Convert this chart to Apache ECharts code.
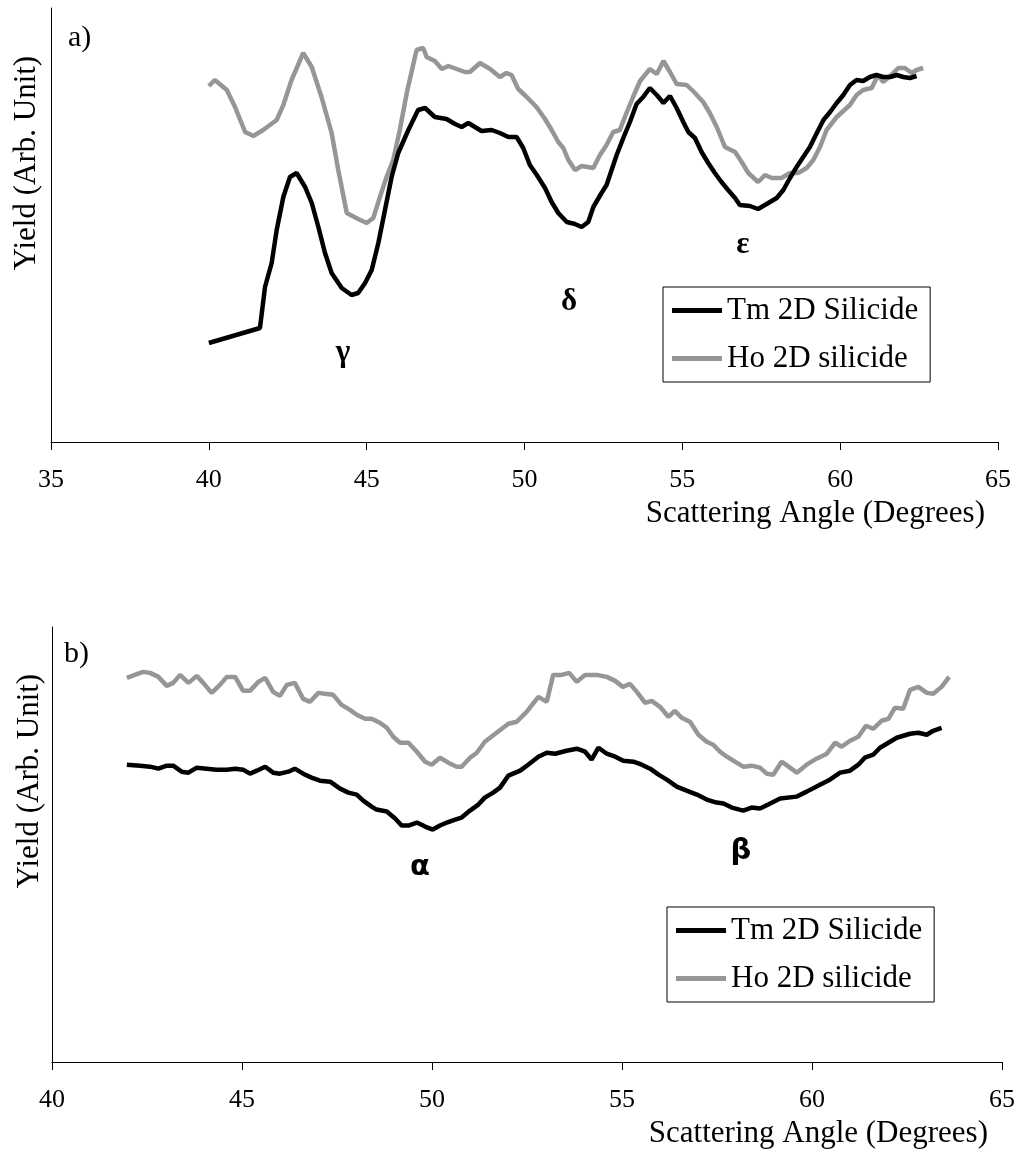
<!DOCTYPE html>
<html>
<head>
<meta charset="utf-8">
<script src="https://cdn.jsdelivr.net/npm/echarts@6/dist/echarts.min.js"></script>
<style>
  html, body { margin: 0; padding: 0; background: #fff; }
  #main { width: 1018px; height: 1149px; }
</style>
</head>
<body>
<div id="main"></div>
<script>
// panel a) Tm / Ho 2D silicide, angle in degrees, yield in arb. units
var tmAngleA = [40.00,41.62,41.78,41.99,42.15,42.36,42.57,42.78,43.05,43.26,43.47,43.68,43.89,44.21,44.52,44.73,44.95,45.16,45.37,45.58,45.79,46.00,46.32,46.63,46.85,47.16,47.53,47.80,48.01,48.22,48.43,48.64,48.96,49.22,49.49,49.75,49.96,50.17,50.39,50.65,50.86,51.07,51.34,51.60,51.81,52.02,52.18,52.44,52.60,52.76,52.92,53.13,53.34,53.55,53.76,53.97,54.19,54.40,54.61,54.82,55.03,55.19,55.40,55.61,55.82,56.03,56.24,56.45,56.67,56.82,57.14,57.40,57.67,57.99,58.20,58.41,58.62,58.83,59.04,59.26,59.47,59.68,59.89,60.10,60.31,60.52,60.73,60.94,61.15,61.36,61.58,61.79,62.00,62.21,62.42];
var tmYieldA = [99,114,155,179,212,245,265,269,255,239,215,189,169,154,147,149,159,172,199,232,265,289,312,332,334,325,323,318,315,319,315,311,312,309,305,305,294,277,267,254,240,229,220,218,215,220,235,249,257,272,287,304,320,338,345,354,347,339,346,334,320,310,304,290,279,269,260,252,244,237,236,233,238,244,252,264,275,285,295,309,322,330,339,347,357,362,361,365,367,365,365,367,365,364,366];
var hoAngleA = [40.00,40.19,40.57,40.83,41.15,41.41,41.72,42.15,42.36,42.62,42.99,43.26,43.57,43.89,44.10,44.37,44.73,45.00,45.21,45.42,45.63,45.84,46.05,46.27,46.58,46.79,46.90,47.16,47.38,47.59,47.85,48.11,48.27,48.59,48.91,49.22,49.43,49.59,49.80,50.07,50.38,50.65,50.86,51.07,51.23,51.39,51.60,51.81,52.18,52.39,52.60,52.81,53.02,53.23,53.44,53.66,53.97,54.19,54.40,54.61,54.82,55.14,55.40,55.66,55.87,56.09,56.35,56.67,56.88,57.09,57.40,57.62,57.83,58.14,58.41,58.67,58.94,59.15,59.36,59.57,59.89,60.31,60.52,60.73,61.00,61.20,61.36,61.62,61.84,62.05,62.27,62.42,62.63];
var hoYieldA = [356,362,352,335,310,306,312,322,337,362,389,375,345,309,272,229,223,219,224,245,265,282,312,349,392,394,385,381,373,376,373,370,370,379,373,365,369,367,353,345,335,323,312,300,294,282,272,276,274,287,297,310,312,329,345,361,373,368,381,370,358,357,349,340,329,315,295,290,280,269,260,267,264,264,269,269,274,282,295,312,325,337,347,352,354,367,360,367,374,374,369,372,374];

// panel b)
var tmAngleB = [41.97,42.32,42.58,42.80,43.02,43.19,43.41,43.59,43.81,44.07,44.33,44.60,44.82,45.03,45.21,45.39,45.61,45.82,46.00,46.22,46.39,46.61,46.83,47.05,47.32,47.58,47.80,48.02,48.19,48.41,48.54,48.81,49.03,49.20,49.38,49.60,49.82,50.02,50.21,50.39,50.61,50.78,51.00,51.22,51.39,51.61,51.79,52.01,52.32,52.53,52.80,53.02,53.24,53.54,53.81,54.03,54.20,54.38,54.60,54.82,55.03,55.30,55.52,55.74,55.96,56.18,56.44,56.70,56.97,57.23,57.49,57.67,57.89,58.19,58.41,58.63,58.85,59.16,59.60,59.86,60.21,60.47,60.74,61.00,61.22,61.39,61.61,61.79,62.01,62.23,62.58,62.80,63.02,63.19,63.41];
var tmYieldB = [298,297,296,294,297,297,291,290,295,294,293,293,294,293,289,292,296,290,289,291,294,289,285,282,281,274,270,268,262,256,253,251,244,237,237,240,236,233,237,240,243,245,252,258,265,270,275,287,292,298,306,310,309,312,314,311,303,315,309,306,302,301,298,294,288,283,276,272,268,263,260,259,255,252,255,254,258,264,266,271,278,283,290,292,298,305,308,315,320,325,329,330,328,332,335];
var hoAngleB = [41.97,42.18,42.40,42.58,42.80,43.02,43.19,43.37,43.59,43.81,43.98,44.20,44.42,44.60,44.82,45.03,45.21,45.43,45.61,45.82,46.00,46.18,46.39,46.61,46.79,47.01,47.18,47.40,47.62,47.84,48.02,48.24,48.41,48.63,48.81,48.98,49.16,49.38,49.60,49.82,49.99,50.21,50.43,50.65,50.78,51.00,51.18,51.39,51.70,52.01,52.23,52.49,52.80,53.02,53.19,53.41,53.61,53.81,54.03,54.33,54.60,54.82,55.02,55.21,55.39,55.61,55.78,56.00,56.22,56.39,56.57,56.79,57.01,57.23,57.40,57.58,57.76,57.97,58.19,58.41,58.63,58.81,58.98,59.20,59.42,59.60,59.86,60.12,60.39,60.61,60.78,61.00,61.22,61.42,61.61,61.83,62.01,62.18,62.40,62.58,62.80,63.02,63.19,63.41,63.61];
var hoYieldB = [385,388,391,390,386,377,380,388,380,387,380,370,378,386,386,372,372,381,385,371,367,378,380,364,361,370,369,368,358,353,348,344,344,340,335,326,320,320,311,301,298,305,300,296,296,305,310,321,330,339,341,351,366,361,388,388,390,381,388,388,386,382,376,379,371,360,362,356,346,352,345,341,328,321,318,311,306,301,296,297,295,289,288,301,295,290,298,304,309,320,316,322,326,337,334,342,344,355,354,373,376,370,369,376,386];

// peak labels
var peakNamesA = ['γ', 'δ', 'ε'];
var peakAngleA = [44.25, 51.41, 56.92];
var peakYieldA = [89, 140, 197];
var peakNamesB = ['α', 'β'];
var peakAngleB = [49.68, 58.13];
var peakYieldB = [195, 211];

var serif = '"Liberation Serif", "Times New Roman", serif';

function pairs(xs, ys) {
    var out = [];
    for (var i = 0; i < xs.length; i++) {
        out.push([xs[i], ys[i]]);
    }
    return out;
}

function peakPoints(names, xs, ys) {
    var out = [];
    for (var i = 0; i < names.length; i++) {
        out.push({name: names[i], coord: [xs[i], ys[i]]});
    }
    return out;
}

function xAxisOf(idx, min, gap) {
    return {
        type: 'value',
        gridIndex: idx,
        min: min,
        max: 65,
        interval: 5,
        name: 'Scattering Angle (Degrees)',
        nameLocation: 'end',
        nameGap: gap,
        nameTextStyle: {
            fontFamily: serif, fontSize: 31, color: '#000',
            align: 'right', verticalAlign: 'top', padding: [56, 0, 0, 0]
        },
        axisLine: {lineStyle: {color: '#000', width: 1}},
        axisTick: {show: true, inside: false, length: 8, lineStyle: {color: '#000'}},
        axisLabel: {fontFamily: serif, fontSize: 26, color: '#000', margin: 25},
        splitLine: {show: false}
    };
}

function yAxisOf(idx, max) {
    return {
        type: 'value',
        gridIndex: idx,
        min: 0,
        max: max,
        axisLine: {show: true, lineStyle: {color: '#000', width: 1}},
        axisTick: {show: false},
        axisLabel: {show: false},
        splitLine: {show: false}
    };
}

function lineSeries(name, idx, data, color, marks, font, size) {
    var s = {
        name: name,
        type: 'line',
        xAxisIndex: idx,
        yAxisIndex: idx,
        data: data,
        showSymbol: false,
        symbol: 'none',
        lineStyle: {color: color, width: 4.5},
        itemStyle: {color: color},
        z: name.indexOf('Tm') === 0 ? 3 : 2
    };
    if (marks) {
        s.markPoint = {
            symbol: 'circle',
            symbolSize: 1,
            itemStyle: {color: 'rgba(0,0,0,0)'},
            label: {
                show: true, position: 'inside', formatter: '{b}',
                fontFamily: font, fontSize: size, fontWeight: 'bold', color: '#000'
            },
            data: marks
        };
    }
    return s;
}

function legendOf(left, top) {
    return {
        orient: 'vertical',
        left: left,
        top: top,
        data: ['Tm 2D Silicide', 'Ho 2D silicide'],
        icon: 'rect',
        itemWidth: 50,
        itemHeight: 5,
        itemGap: 17,
        padding: [8, 12, 8, 9],
        borderColor: '#000',
        borderWidth: 1,
        textStyle: {fontFamily: serif, fontSize: 31, color: '#000'}
    };
}

var myChart = echarts.init(document.getElementById('main'));
var option = {
    animation: false,
    backgroundColor: '#fff',
    grid: [
        {left: 51, top: 8, width: 947, height: 434},
        {left: 52, top: 627, width: 950, height: 436}
    ],
    xAxis: [xAxisOf(0, 35, -13), xAxisOf(1, 40, -14)],
    yAxis: [yAxisOf(0, 434), yAxisOf(1, 436)],
    legend: [legendOf(663, 287), legendOf(667, 907)],
    graphic: [
        {type: 'text', x: 27, y: 163, rotation: Math.PI / 2,
            style: {text: 'Yield (Arb. Unit)', fontFamily: serif, fontSize: 31, fill: '#000', align: 'center', verticalAlign: 'middle'}},
        {type: 'text', x: 30, y: 781, rotation: Math.PI / 2,
            style: {text: 'Yield (Arb. Unit)', fontFamily: serif, fontSize: 31, fill: '#000', align: 'center', verticalAlign: 'middle'}},
        {type: 'text', x: 68, y: 38,
            style: {text: 'a)', fontFamily: serif, fontSize: 30, fill: '#000', align: 'left', verticalAlign: 'middle'}},
        {type: 'text', x: 64, y: 654,
            style: {text: 'b)', fontFamily: serif, fontSize: 30, fill: '#000', align: 'left', verticalAlign: 'middle'}}
    ],
    series: [
        lineSeries('Tm 2D Silicide', 0, pairs(tmAngleA, tmYieldA), '#000', peakPoints(peakNamesA, peakAngleA, peakYieldA), serif, 31),
        lineSeries('Ho 2D silicide', 0, pairs(hoAngleA, hoYieldA), '#969696'),
        lineSeries('Tm 2D Silicide', 1, pairs(tmAngleB, tmYieldB), '#000', peakPoints(peakNamesB, peakAngleB, peakYieldB), '"DejaVu Sans", sans-serif', 29),
        lineSeries('Ho 2D silicide', 1, pairs(hoAngleB, hoYieldB), '#969696')
    ]
};

// 使用刚指定的配置项和数据显示图表。
myChart.setOption(option);
</script>
</body>
</html>
